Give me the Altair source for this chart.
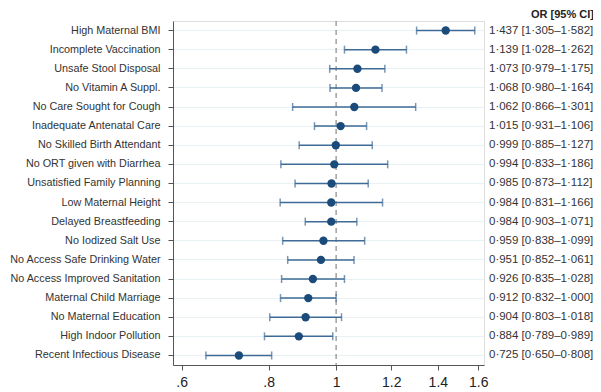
import altair as alt
import pandas as pd

factors = [
    "High Maternal BMI",
    "Incomplete Vaccination",
    "Unsafe Stool Disposal",
    "No Vitamin A Suppl.",
    "No Care Sought for Cough",
    "Inadequate Antenatal Care",
    "No Skilled Birth Attendant",
    "No ORT given with Diarrhea",
    "Unsatisfied Family Planning",
    "Low Maternal Height",
    "Delayed Breastfeeding",
    "No Iodized Salt Use",
    "No Access Safe Drinking Water",
    "No Access Improved Sanitation",
    "Maternal Child Marriage",
    "No Maternal Education",
    "High Indoor Pollution",
    "Recent Infectious Disease",
]
odds_ratio = [1.437, 1.139, 1.073, 1.068, 1.062, 1.015, 0.999, 0.994, 0.985,
              0.984, 0.984, 0.959, 0.951, 0.926, 0.912, 0.904, 0.884, 0.725]
ci_low = [1.305, 1.028, 0.979, 0.980, 0.866, 0.931, 0.885, 0.833, 0.873,
          0.831, 0.903, 0.838, 0.852, 0.835, 0.832, 0.803, 0.789, 0.650]
ci_high = [1.582, 1.262, 1.175, 1.164, 1.301, 1.106, 1.127, 1.186, 1.112,
           1.166, 1.071, 1.099, 1.061, 1.028, 1.000, 1.018, 0.989, 0.808]

x_ticks = [0.6, 0.8, 1.0, 1.2, 1.4, 1.6]
x_tick_labels = [".6", ".8", "1", "1.2", "1.4", "1.6"]
header = "OR [95% CI]"
ref_value = [1.0]


def fmt(v):
    return f"{v:.3f}".replace(".", "\u00b7")


df = pd.DataFrame({"factor": factors, "or": odds_ratio, "lo": ci_low, "hi": ci_high})
df["label"] = [f"{fmt(o)} [{fmt(l)}\u2013{fmt(h)}]" for o, l, h in zip(odds_ratio, ci_low, ci_high)]

W, H = 311, 344
FONT = "Liberation Sans"
BAR = "#3d6a96"
DOT = "#1b4b7a"
AXC = "#555555"

label_expr = "[" + ",".join(f"'{s}'" for s in x_tick_labels) + "][indexof([" + \
    ",".join(str(v) for v in x_ticks) + "], datum.value)]"

x_scale = alt.Scale(type="log", domain=[0.583, 1.631], nice=False)
x_axis = alt.Axis(
    title=None, values=x_ticks, labelExpr=label_expr, labelFontSize=14,
    labelColor="#222", labelFont=FONT, tickSize=5, tickColor=AXC, domainColor=AXC,
    grid=False, labelPadding=5, labelFlush=False,
)
y_axis = alt.Axis(
    title=None, labelFontSize=10.8, labelColor="#333", labelFont=FONT,
    tickSize=5, tickColor=AXC, domainColor=AXC, labelPadding=8, labelLimit=400,
    grid=True, gridColor="#e8f0f3", bandPosition=0.5,
)
y_enc = alt.Y("factor:N", sort=factors,
              scale=alt.Scale(paddingInner=0, paddingOuter=0), axis=y_axis)

base = alt.Chart(df)

ref = alt.Chart(pd.DataFrame({"v": ref_value})).mark_rule(
    color="#8a8a8a", strokeDash=[5, 4], strokeWidth=1.2
).encode(x=alt.X("v:Q", scale=x_scale, axis=x_axis))

rules = base.mark_rule(color=BAR, strokeWidth=1.5).encode(
    x=alt.X("lo:Q", scale=x_scale, axis=x_axis), x2="hi:Q", y=y_enc
)
cap_lo = base.mark_tick(color=BAR, size=8, thickness=1.5, orient="vertical").encode(
    x=alt.X("lo:Q", scale=x_scale, axis=x_axis), y=y_enc
)
cap_hi = base.mark_tick(color=BAR, size=8, thickness=1.5, orient="vertical").encode(
    x=alt.X("hi:Q", scale=x_scale, axis=x_axis), y=y_enc
)
dots = base.mark_circle(color=DOT, size=70, opacity=1).encode(
    x=alt.X("or:Q", scale=x_scale, axis=x_axis), y=y_enc
)
texts = base.mark_text(align="left", baseline="middle", fontSize=11.5,
                       font=FONT, color="#333").encode(
    x=alt.value(316), y=y_enc, text="label:N"
)
head = alt.Chart(pd.DataFrame({"t": [header]})).mark_text(
    align="right", baseline="middle", fontSize=11, fontWeight="bold",
    font=FONT, color="#222", x=421, y=-6
).encode(text="t:N")

chart = alt.layer(ref, rules, cap_lo, cap_hi, dots, texts, head).properties(
    width=W, height=H,
    autosize=alt.AutoSizeParams(type="none"),
    padding={"left": 165, "top": 13, "right": 109, "bottom": 24},
).configure_view(stroke=None).configure(background="white")

chart.save("out.html", embed_options={"renderer": "svg", "actions": False})
